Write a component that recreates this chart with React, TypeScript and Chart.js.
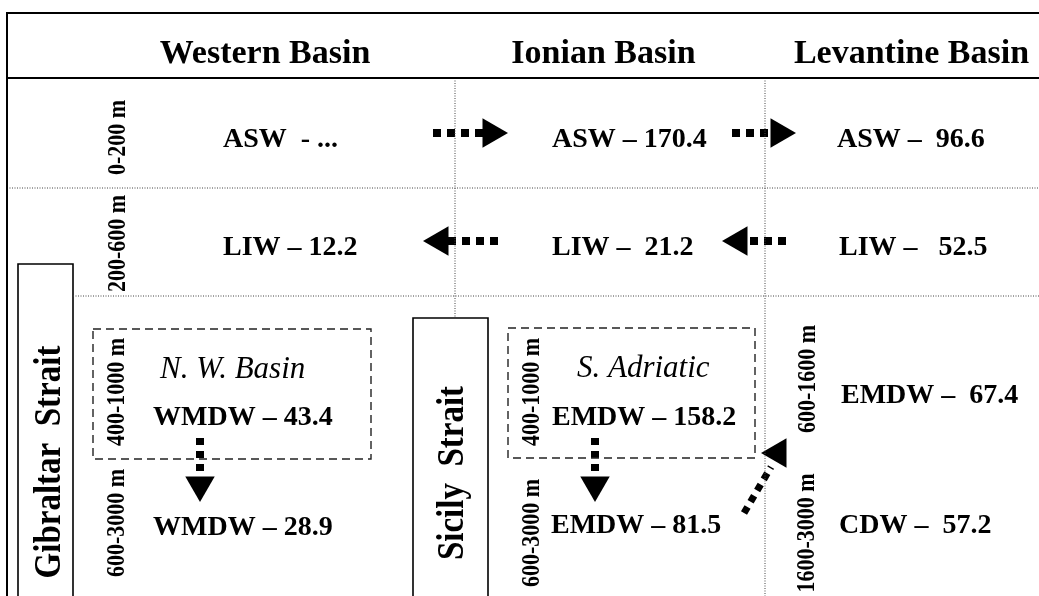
import React, { useEffect, useRef } from "react";
import { Chart, registerables } from "chart.js";

Chart.register(...registerables);

// ---- diagram data -------------------------------------------------------
const basinNames = ["Western Basin", "Ionian Basin", "Levantine Basin"];
const basinX = [265, 603.5, 911.5];
const headerBaseline = 63;

const waterMasses = ["ASW", "LIW", "WMDW", "WMDW", "ASW", "LIW", "EMDW", "EMDW", "ASW", "LIW", "EMDW", "CDW"];
const transports: (number | null)[] = [null, 12.2, 43.4, 28.9, 170.4, 21.2, 158.2, 81.5, 96.6, 52.5, 67.4, 57.2];
const separators = ["  - ", " \u2013 ", " \u2013 ", " \u2013 ", " \u2013 ", " \u2013  ", " \u2013 ", " \u2013 ", " \u2013  ", " \u2013   ", " \u2013  ", " \u2013  "];
const labelX = [223, 223, 153, 153, 552, 552, 552, 551, 837, 839, 841, 839];
const labelY = [147, 255, 425, 535, 147, 255, 425, 533, 147, 255, 403, 533];

const depthRanges = ["0-200 m", "200-600 m", "400-1000 m", "600-3000 m", "400-1000 m", "600-3000 m", "600-1600 m", "1600-3000 m"];
const depthX = [125, 125, 124, 124, 539, 539, 815, 814];
const depthY = [137.5, 243.5, 392, 523, 392, 533, 379, 533];

const subBasins = ["N. W. Basin", "S. Adriatic"];
const subBasinX = [160, 577];
const subBasinY = [378, 377];

const straits = ["Gibraltar  Strait", "Sicily  Strait"];
const straitX = [60, 463];
const straitY = [462, 473];

// frame / grid lines (diagram units)
const solidLines = [
  [[7, 600], [7, 13], [1039, 13]],
  [[7, 78], [1039, 78]],
];
const dottedLines = [
  [[7, 188], [1039, 188]],
  [[73, 296], [1039, 296]],
  [[455, 78], [455, 318]],
  [[765, 78], [765, 600]],
];
const straitBoxes = [
  [[18, 600], [18, 264], [73, 264], [73, 600]],
  [[413, 600], [413, 318], [488, 318], [488, 600]],
];
const dashedBoxes = [
  [[93, 329], [371, 329], [371, 459], [93, 459], [93, 329]],
  [[508, 328], [755, 328], [755, 458], [508, 458], [508, 328]],
];

// arrows: shaft start, shaft end, head centre, head rotation
const arrowShafts = [
  [[433, 133], [483, 133]],
  [[732, 133], [770, 133]],
  [[498, 241], [448, 241]],
  [[786, 241], [748, 241]],
  [[200, 438], [200, 478]],
  [[595, 438], [595, 478]],
  [[744, 513], [771, 467]],
];
const arrowHeads = [[491, 133], [779, 133], [440, 241], [739, 241], [200, 485], [595, 485], [778, 453]];
const arrowRotation = [90, 90, 270, 270, 180, 180, 270];

// -------------------------------------------------------------------------
const toPts = (arr: number[][]) => arr.map(([x, y]) => ({ x, y }));

const lineDs = (pts: number[][], width: number, dash: number[], color = "#000") => ({
  data: toPts(pts),
  showLine: true,
  borderColor: color,
  borderWidth: width,
  borderDash: dash,
  borderCapStyle: "butt",
  pointRadius: 0,
  fill: false,
  tension: 0,
});

const textPlugin = {
  id: "diagramText",
  afterDatasetsDraw(chart: any) {
    const { ctx, scales } = chart;
    const sx = (v: number) => scales.x.getPixelForValue(v);
    const sy = (v: number) => scales.y.getPixelForValue(v);
    ctx.save();
    ctx.fillStyle = "#000";
    ctx.textBaseline = "alphabetic";

    ctx.font = 'bold 34px "Liberation Serif"';
    ctx.textAlign = "center";
    basinNames.forEach((n, i) => ctx.fillText(n, sx(basinX[i]), sy(headerBaseline)));

    ctx.textAlign = "left";
    ctx.font = 'bold 28px "Liberation Serif"';
    waterMasses.forEach((m, i) => {
      const v = transports[i];
      const txt = m + separators[i] + (v === null ? "..." : v.toFixed(1));
      ctx.fillText(txt, sx(labelX[i]), sy(labelY[i]));
    });

    ctx.font = 'italic 31px "Liberation Serif"';
    subBasins.forEach((s, i) => ctx.fillText(s, sx(subBasinX[i]), sy(subBasinY[i])));

    const rotated = (txt: string, px: number, py: number, font: string, stretch: number) => {
      ctx.save();
      ctx.translate(px, py);
      ctx.rotate(-Math.PI / 2);
      ctx.scale(1, stretch);
      ctx.font = font;
      ctx.textAlign = "center";
      ctx.textBaseline = "alphabetic";
      ctx.fillText(txt, 0, 0);
      ctx.restore();
    };
    depthRanges.forEach((d, i) => rotated(d, sx(depthX[i]), sy(depthY[i]), 'bold 22px "Liberation Serif"', 1.1));
    straits.forEach((s, i) => rotated(s, sx(straitX[i]), sy(straitY[i]), 'bold 33px "Liberation Serif"', 1.15));
    ctx.restore();
  },
};

export default function App() {
  const ref = useRef<HTMLCanvasElement | null>(null);

  useEffect(() => {
    if (!ref.current) return;
    const datasets: any[] = [];
    solidLines.forEach((l) => datasets.push(lineDs(l, 2, [])));
    dottedLines.forEach((l) => datasets.push(lineDs(l, 1, [1, 1.5], "#444")));
    straitBoxes.forEach((l) => datasets.push(lineDs(l, 1.6, [])));
    dashedBoxes.forEach((l) => datasets.push(lineDs(l, 1.4, [8, 5], "#222")));
    arrowShafts.forEach((l, i) => datasets.push(lineDs(l, i === 6 ? 7 : 8, i >= 4 ? [7, 6] : [8, 6])));
    datasets.push({
      data: toPts(arrowHeads),
      showLine: false,
      pointStyle: "triangle",
      pointRadius: 17,
      pointRotation: arrowRotation,
      pointBackgroundColor: "#000",
      pointBorderWidth: 0,
      pointBorderColor: "#000",
    });

    const chart = new Chart(ref.current, {
      type: "scatter",
      data: { datasets },
      options: {
        responsive: false,
        animation: false,
        devicePixelRatio: 1,
        events: [],
        layout: { padding: 0, autoPadding: false },
        plugins: { legend: { display: false }, tooltip: { enabled: false } },
        scales: {
          x: { type: "linear", min: 0, max: 1039, display: false },
          y: { type: "linear", min: 0, max: 596, reverse: true, display: false },
        },
      },
      plugins: [textPlugin],
    } as any);
    return () => chart.destroy();
  }, []);

  return (
    <div style={{ position: "absolute", left: 0, top: 0, width: 1039, height: 596, background: "#fff" }}>
      <canvas ref={ref} width={1039} height={596} style={{ display: "block", width: 1039, height: 596 }} />
    </div>
  );
}
